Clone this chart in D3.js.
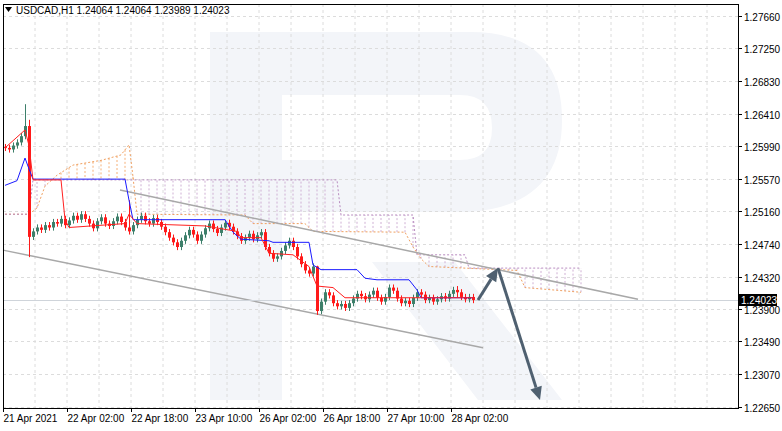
<!DOCTYPE html>
<html><head><meta charset="utf-8">
<script src="https://cdn.jsdelivr.net/npm/d3@7"></script>
<style>
body{margin:0;background:#fff;}
svg{font-family:"Liberation Sans",Arial,sans-serif;font-size:10px;}
</style></head><body>
<svg id="c" width="782" height="431"></svg>
<script>
// USDCAD H1 closes, open = previous close
var firstOpen = 1.2598;
var closes = [1.2597,1.2595,1.2600,1.2604,1.2612,1.2625,
  1.2483,
  1.2490,1.2495,1.2492,1.2498,1.2495,1.2502,
  1.2500,1.2506,1.2498,1.2504,1.2510,1.2505,1.2512,1.2506,1.2500,1.2494,1.2503,1.2508,1.2500,1.2497,1.2503,1.2509,1.2502,1.2495,
  1.2490,
  1.2498,1.2505,1.2510,1.2503,1.2500,1.2507,1.2502,1.2496,1.2489,
  1.2482,1.2476,1.2470,1.2478,1.2485,1.2492,1.2486,1.2478,1.2486,
  1.2494,1.2500,1.2493,1.2488,1.2495,1.2501,1.2496,1.2490,1.2484,
  1.2478,1.2482,1.2487,1.2480,1.2485,1.2489,
  1.2470,1.2462,1.2455,1.2458,1.2465,1.2472,1.2478,1.2470,
  1.2458,1.2448,1.2440,1.2436,1.2445,1.2388,
  1.2400,1.2412,1.2408,1.2398,1.2394,1.2397,1.2392,
  1.2398,1.2404,1.2410,1.2407,1.2403,1.2409,1.2414,1.2405,1.2400,1.2406,
  1.2418,1.2414,1.2404,1.2398,1.2401,1.2397,1.2405,1.2412,1.2409,1.2402,
  1.2405,1.2400,1.2403,1.2407,1.2404,1.2410,1.2415,1.2412,1.2406,1.2403,1.2406,1.2402];
// notable wick extremes [bar, high, low]
var spikes = [[5,1.2653,1.2608],[6,1.2633,1.2457],[31,1.2530,1.2486],[78,1.2446,1.2383],[113,1.2420,1.2405]];
var wickPad = 0.0004;

var tenkan = [[0,1.2597],[5,1.2620],[6,1.2600],[7,1.2556],[14,1.2556],[15,1.2505],[16,1.2495],[30,1.2500],[31,1.2512],[33,1.2500],[50,1.2497],[58,1.2490],[59,1.2482],[64,1.2482],[66,1.2462],[72,1.2460],[76,1.2445],[78,1.2420],[82,1.2418],[85,1.2405],[117,1.2405]];
var kijun = [[0,1.2549],[3,1.2555],[5,1.2584],[6,1.2570],[7,1.2557],[30,1.2557],[31,1.2530],[32,1.2505],[55,1.2505],[57,1.2489],[59,1.2480],[66,1.2478],[67,1.2476],[76,1.2476],[77,1.2447],[79,1.2441],[88,1.2441],[90,1.2430],[93,1.2428],[101,1.2428],[103,1.2415],[104,1.2405],[117,1.2405]];
var spanA = [[0,1.2512],[6,1.2512],[8,1.2520],[10,1.2548],[13,1.2562],[17,1.2575],[24,1.2581],[29,1.2588],[31,1.2601],[32,1.2560],[33,1.2512],[60,1.2511],[62,1.2500],[75,1.2500],[77,1.2490],[100,1.2489],[102,1.2470],[104,1.2455],[106,1.2445],[128,1.2440],[130,1.2418],[144,1.2412]];
var spanB = [[0,1.2512],[6,1.2512],[7,1.2556],[83,1.2556],[84,1.2511],[102,1.2511],[103,1.2460],[115,1.2460],[116,1.2443],[144,1.2443]];

var channelUp = [[28.75,1.2543],[158.25,1.2403]];
var channelDn = [[-0.5,1.2466],[119.5,1.2341]];
var arrows = [[[118.25,1.2402],[123.25,1.2443]],[[123.25,1.2443],[133.75,1.2274]]];

var priceTicks = [1.27660,1.27250,1.26830,1.26410,1.25990,1.25570,1.25160,1.24740,1.24320,1.23900,1.23490,1.23070,1.22650];
var timeLabels = ["21 Apr 2021","22 Apr 02:00","22 Apr 18:00","23 Apr 10:00","26 Apr 02:00","26 Apr 18:00","27 Apr 10:00","28 Apr 02:00"];
var lastPrice = 1.24023;
var header = "USDCAD,H1  1.24064 1.24064 1.23989 1.24023";

var svg = d3.select("#c");
var L = 3, R = 738, T = 4, B = 408;
var x = d3.scaleLinear().domain([-0.5, 183.25]).range([L, R]);
var y = d3.scaleLinear().domain([1.2265, 1.2766]).range([407, 16]);

// watermark
svg.append("path")
  .attr("d","M210,32H470Q562,32 562,120Q562,205 470,212H282V400H210Z M282,95V160H460Q492,160 492,128Q492,95 460,95Z M372,262H455L562,400H478Z")
  .attr("fill","#f3f5f9").attr("fill-rule","evenodd");

// grid
var g = svg.append("g");
for (var gx = L + 32; gx < R; gx += 32)
  g.append("line").attr("x1",gx).attr("x2",gx).attr("y1",T).attr("y2",B).attr("stroke","#dcdcdc").attr("stroke-dasharray","3,3");
priceTicks.forEach(function(p){
  g.append("line").attr("x1",L).attr("x2",R).attr("y1",Math.round(y(p))+0.5).attr("y2",Math.round(y(p))+0.5).attr("stroke","#dcdcdc").attr("stroke-dasharray","3,3");
});

function at(pts, i){
  for (var k = 0; k < pts.length - 1; k++) {
    if (i >= pts[k][0] && i <= pts[k+1][0]) {
      var t = (i - pts[k][0]) / (pts[k+1][0] - pts[k][0] || 1);
      return pts[k][1] + t * (pts[k+1][1] - pts[k][1]);
    }
  }
  return null;
}

// cloud hatching, every other bar
var cloud = svg.append("g");
for (var i = 0; i <= 144; i += 2) {
  var a = at(spanA, i), b = at(spanB, i);
  if (a == null || b == null || Math.abs(a - b) < 0.00005) continue;
  cloud.append("line").attr("x1",x(i)).attr("x2",x(i)).attr("y1",y(a)).attr("y2",y(b))
    .attr("stroke", a > b ? "#f5b078" : "#cfb0d4").attr("stroke-width",1).attr("stroke-dasharray","2,2");
}
var line = d3.line().x(function(d){return x(d[0]);}).y(function(d){return y(d[1]);});
cloud.append("path").attr("d",line(spanA)).attr("fill","none").attr("stroke","#f0a060").attr("stroke-dasharray","2,2");
cloud.append("path").attr("d",line(spanB)).attr("fill","none").attr("stroke","#b98cc0").attr("stroke-dasharray","2,2");

// channel lines
[channelUp, channelDn].forEach(function(c){
  svg.append("path").attr("d",line(c)).attr("stroke","#a8a8a8").attr("stroke-width",1.5).attr("fill","none");
});

// current price line
svg.append("line").attr("x1",L).attr("x2",R).attr("y1",Math.round(y(lastPrice))+0.5).attr("y2",Math.round(y(lastPrice))+0.5).attr("stroke","#cfd4da");

// candles
var cg = svg.append("g");
closes.forEach(function(c, i){
  var o = i === 0 ? firstOpen : closes[i-1];
  var hi = Math.max(o, c) + wickPad, lo = Math.min(o, c) - wickPad;
  spikes.forEach(function(s){ if (s[0] === i) { hi = s[1]; lo = s[2]; } });
  var col = c >= o ? "#3d7f6a" : "#ff1a1a";
  var cx = Math.round(x(i)) + 0.5;
  cg.append("line").attr("x1",cx).attr("x2",cx).attr("y1",y(hi)).attr("y2",y(lo)).attr("stroke",col);
  var yt = y(Math.max(o,c)), yb = y(Math.min(o,c));
  cg.append("rect").attr("x",cx-1.5).attr("y",yt).attr("width",3).attr("height",Math.max(1,yb-yt)).attr("fill",col);
});

svg.append("path").attr("d",line(kijun)).attr("fill","none").attr("stroke","#1a1aff").attr("stroke-width",1);
svg.append("path").attr("d",line(tenkan)).attr("fill","none").attr("stroke","#ff2020").attr("stroke-width",1);

// arrows
arrows.forEach(function(ar){
  var x1 = x(ar[0][0]), y1 = y(ar[0][1]), x2 = x(ar[1][0]), y2 = y(ar[1][1]);
  var ang = Math.atan2(y2-y1, x2-x1), h = 13, w = 6;
  var bx = x2 - h*Math.cos(ang), by = y2 - h*Math.sin(ang);
  svg.append("line").attr("x1",x1).attr("y1",y1).attr("x2",bx).attr("y2",by).attr("stroke","#4f6070").attr("stroke-width",3);
  svg.append("path").attr("d","M"+x2+","+y2+"L"+(bx+w*Math.sin(ang))+","+(by-w*Math.cos(ang))+"L"+(bx-w*Math.sin(ang))+","+(by+w*Math.cos(ang))+"Z").attr("fill","#4f6070");
});

// frame
svg.append("rect").attr("x",L+0.5).attr("y",T+0.5).attr("width",R-L).attr("height",B-T).attr("fill","none").attr("stroke","#000");

// price axis
priceTicks.forEach(function(p){
  var py = Math.round(y(p)) + 0.5;
  svg.append("line").attr("x1",R).attr("x2",R+4).attr("y1",py).attr("y2",py).attr("stroke","#000");
  svg.append("text").attr("x",R+6).attr("y",py+4).attr("fill","#000").text(p.toFixed(5));
});
var ly = Math.round(y(lastPrice));
svg.append("rect").attr("x",R+1).attr("y",ly-6).attr("width",38).attr("height",12).attr("fill","#000");
svg.append("text").attr("x",R+3).attr("y",ly+4).attr("fill","#fff").text(lastPrice.toFixed(5));

// time axis
timeLabels.forEach(function(t, k){
  var tx = Math.round(x(k*16 - 0.5)) + 0.5;
  svg.append("line").attr("x1",tx).attr("x2",tx).attr("y1",B).attr("y2",B+4).attr("stroke","#000");
  svg.append("text").attr("x",tx).attr("y",B+14).attr("fill","#000").text(t);
});

// header
svg.append("path").attr("d","M5,7H12L8.5,12Z").attr("fill","#000");
svg.append("text").attr("x",16).attr("y",14).attr("fill","#000").text(header);
</script>
</body></html>
